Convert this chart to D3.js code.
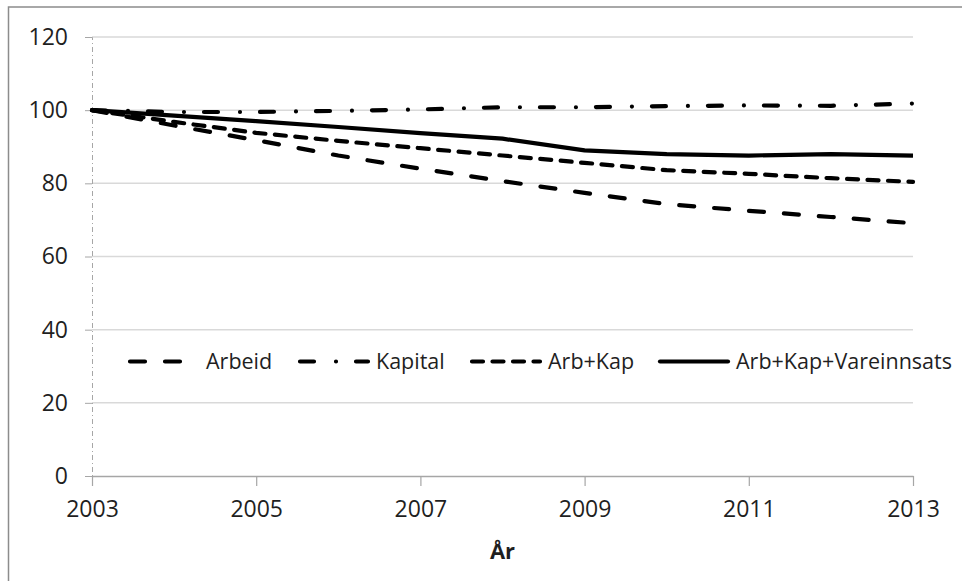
<!DOCTYPE html>
<html>
<head>
<meta charset="utf-8">
<script src="https://cdn.jsdelivr.net/npm/d3@7"></script>
<style>
  body { margin: 0; background: #fff; }
  text { font-family: "Open Sans", sans-serif; fill: #1f1f1f; }
</style>
</head>
<body>
<div id="chart"></div>
<script>
// data (index, 2003 = 100)
const years = [2003, 2004, 2005, 2006, 2007, 2008, 2009, 2010, 2011, 2012, 2013];
const seriesNames = ["Arbeid", "Kapital", "Arb+Kap", "Arb+Kap+Vareinnsats"];
const arbeid = [100, 95.8, 91.8, 87.6, 84, 80.6, 77.4, 74.3, 72.5, 70.8, 69.1];
const kapital = [100, 99.5, 99.5, 99.8, 100.2, 100.8, 100.8, 101.1, 101.3, 101.2, 101.8];
const arbKap = [100, 96.8, 93.8, 91.6, 89.6, 87.6, 85.6, 83.6, 82.6, 81.4, 80.4];
const arbKapVare = [100, 98.5, 97, 95.4, 93.7, 92.2, 89, 88, 87.6, 88, 87.6];
const yTicks = [0, 20, 40, 60, 80, 100, 120];
const xTicks = [2003, 2005, 2007, 2009, 2011, 2013];

const W = 962, H = 581;
const margin = { left: 92, right: 49, top: 37, bottom: 105 };

const svg = d3.select("#chart").append("svg")
  .attr("width", W)
  .attr("height", H);

// outer chart border (continues past the right/bottom edges)
svg.append("rect")
  .attr("x", 8.5).attr("y", 7)
  .attr("width", 1000).attr("height", 700)
  .attr("fill", "none")
  .attr("stroke", "#8c8c8c")
  .attr("stroke-width", 1.5);

const x = d3.scaleLinear()
  .domain([2003, 2013])
  .range([margin.left, W - margin.right]);

const y = d3.scaleLinear()
  .domain([0, 120])
  .range([H - margin.bottom, margin.top]);

// gridlines
svg.append("g")
  .selectAll("line")
  .data(yTicks.filter(d => d > 0))
  .enter()
  .append("line")
  .attr("x1", x(2003)).attr("x2", x(2013))
  .attr("y1", d => y(d)).attr("y2", d => y(d))
  .attr("stroke", "#d9d9d9")
  .attr("stroke-width", 1.5);

// y axis: dash-dot line, small ticks, labels
const yAxis = svg.append("g")
  .attr("transform", `translate(${x(2003)},0)`)
  .call(d3.axisLeft(y).tickValues(yTicks).tickSize(7).tickPadding(17));
yAxis.select(".domain")
  .attr("stroke", "#a6a6a6")
  .attr("stroke-dasharray", "5,3,1,3");
yAxis.selectAll(".tick line").attr("stroke", "#a6a6a6");
yAxis.selectAll(".tick text")
  .style("font-size", "23px")
  .attr("fill", "#1f1f1f");

// x axis
const xAxis = svg.append("g")
  .attr("transform", `translate(0,${y(0)})`)
  .call(d3.axisBottom(x).tickValues(xTicks).tickFormat(d3.format("d")).tickSize(10).tickSizeOuter(0).tickPadding(15));
xAxis.select(".domain").attr("stroke", "#a6a6a6").attr("stroke-width", 1.5);
xAxis.selectAll(".tick line").attr("stroke", "#a6a6a6").attr("stroke-width", 1.2);
xAxis.selectAll(".tick text")
  .style("font-size", "23px")
  .attr("fill", "#1f1f1f");

svg.append("text")
  .attr("x", (x(2003) + x(2013)) / 2)
  .attr("y", 559)
  .attr("text-anchor", "middle")
  .style("font-size", "22px")
  .style("font-weight", "bold")
  .attr("fill", "#000")
  .text("År");

// series
const seriesValues = [arbeid, kapital, arbKap, arbKapVare];
const dashes = ["15,20", "14,22,0,20", "11,9.5", null];

const line = d3.line()
  .x(d => x(d[0]))
  .y(d => y(d[1]));

seriesValues.forEach((vals, i) => {
  svg.append("path")
    .datum(years.map((yr, j) => [yr, vals[j]]))
    .attr("d", line)
    .attr("fill", "none")
    .attr("stroke", "#000")
    .attr("stroke-width", 4.2)
    .attr("stroke-linecap", dashes[i] ? "round" : "butt")
    .attr("stroke-linejoin", "round")
    .attr("stroke-dasharray", dashes[i]);
});

// legend
const legendX = [130, 300, 472, 660];
const legendY = 361.5;
const legend = svg.append("g");
seriesNames.forEach((name, i) => {
  legend.append("line")
    .attr("x1", legendX[i]).attr("x2", legendX[i] + 68)
    .attr("y1", legendY).attr("y2", legendY)
    .attr("stroke", "#000")
    .attr("stroke-width", 4.2)
    .attr("stroke-linecap", "round")
    .attr("stroke-dasharray", dashes[i]);
  legend.append("text")
    .attr("x", legendX[i] + 76)
    .attr("y", legendY)
    .attr("dy", "0.35em")
    .style("font-size", "21.5px")
    .text(name);
});
</script>
</body>
</html>
